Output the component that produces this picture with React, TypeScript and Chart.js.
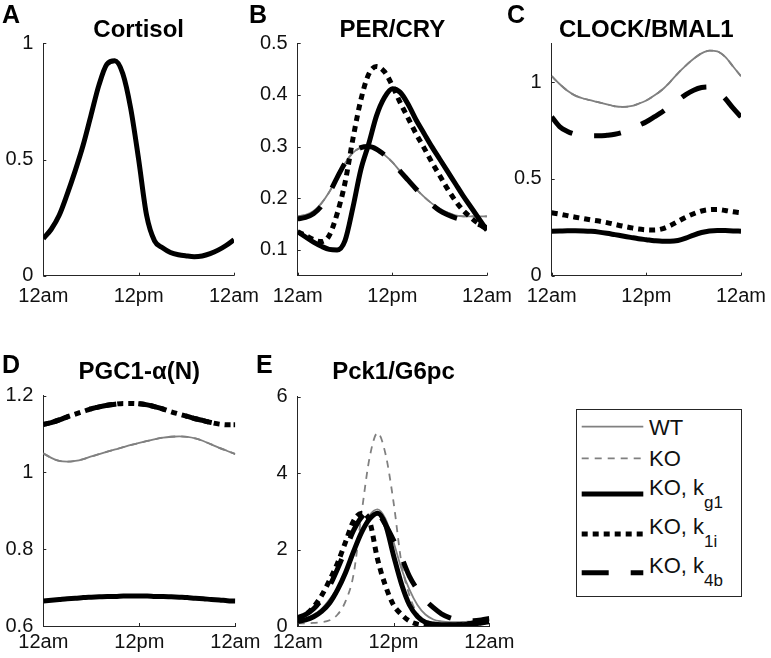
import React, { useEffect, useRef } from 'react';
import { Chart, registerables } from 'chart.js';

Chart.register(...registerables);

// ---------------- data ----------------
const hours = [0, 1, 2, 3, 4, 5, 6, 7, 8, 9, 10, 11, 12, 13, 14, 15, 16, 17, 18, 19, 20, 21, 22, 23, 24];
const xTickValues = [0, 12, 24];
const xTickLabels = ['12am', '12pm', '12am'];

// A: Cortisol
const cortisol = [0.16, 0.20, 0.26, 0.35, 0.45, 0.56, 0.69, 0.82, 0.91, 0.925, 0.87, 0.72, 0.50, 0.26, 0.15, 0.12, 0.10, 0.09, 0.085, 0.082, 0.085, 0.095, 0.11, 0.13, 0.155];
const yTicksA = [0, 0.5, 1];

// B: PER/CRY
const perCryWT = [0.165, 0.168, 0.175, 0.190, 0.212, 0.240, 0.268, 0.288, 0.298, 0.300, 0.295, 0.284, 0.270, 0.252, 0.235, 0.218, 0.203, 0.190, 0.180, 0.172, 0.167, 0.165, 0.165, 0.165, 0.165];
const perCryKO = [0.165, 0.168, 0.175, 0.190, 0.212, 0.240, 0.268, 0.288, 0.298, 0.300, 0.295, 0.284, 0.270, 0.252, 0.235, 0.218, 0.203, 0.190, 0.180, 0.172, 0.167, 0.165, 0.165, 0.165, 0.165];
const perCryKg1 = [0.135, 0.125, 0.115, 0.107, 0.101, 0.100, 0.118, 0.182, 0.255, 0.305, 0.360, 0.395, 0.412, 0.405, 0.382, 0.352, 0.326, 0.300, 0.276, 0.252, 0.228, 0.204, 0.182, 0.160, 0.138];
const perCryK1i = [0.135, 0.128, 0.120, 0.116, 0.128, 0.170, 0.230, 0.315, 0.390, 0.440, 0.455, 0.445, 0.418, 0.385, 0.355, 0.325, 0.298, 0.270, 0.244, 0.218, 0.195, 0.176, 0.162, 0.150, 0.140];
const perCryK4b = [0.160, 0.163, 0.170, 0.185, 0.210, 0.240, 0.268, 0.288, 0.298, 0.300, 0.295, 0.284, 0.270, 0.252, 0.235, 0.218, 0.202, 0.188, 0.176, 0.168, 0.162, 0.158, 0.154, 0.149, 0.143];
const yTicksB = [0.1, 0.2, 0.3, 0.4, 0.5];

// C: CLOCK/BMAL1
const clockWT = [1.03, 0.99, 0.955, 0.93, 0.915, 0.905, 0.895, 0.885, 0.875, 0.872, 0.875, 0.888, 0.905, 0.93, 0.96, 1.00, 1.045, 1.085, 1.12, 1.148, 1.162, 1.158, 1.13, 1.08, 1.03];
const clockKO = [1.03, 0.99, 0.955, 0.93, 0.915, 0.905, 0.895, 0.885, 0.875, 0.872, 0.875, 0.888, 0.905, 0.93, 0.96, 1.00, 1.045, 1.085, 1.12, 1.148, 1.162, 1.158, 1.13, 1.08, 1.03];
const clockKg1 = [0.23, 0.231, 0.232, 0.232, 0.231, 0.229, 0.225, 0.219, 0.212, 0.205, 0.198, 0.191, 0.186, 0.181, 0.178, 0.178, 0.182, 0.194, 0.21, 0.223, 0.231, 0.234, 0.233, 0.231, 0.23];
const clockK1i = [0.325, 0.318, 0.31, 0.302, 0.295, 0.288, 0.282, 0.274, 0.265, 0.256, 0.248, 0.241, 0.237, 0.236, 0.242, 0.258, 0.28, 0.302, 0.32, 0.334, 0.341, 0.342, 0.337, 0.33, 0.325];
const clockK4b = [0.82, 0.77, 0.745, 0.73, 0.725, 0.722, 0.722, 0.725, 0.73, 0.74, 0.755, 0.775, 0.795, 0.82, 0.845, 0.875, 0.905, 0.935, 0.958, 0.972, 0.975, 0.955, 0.915, 0.865, 0.82];
const yTicksC = [0, 0.5, 1];

// D: PGC1-alpha(N)
const pgcWT = [1.050, 1.038, 1.030, 1.028, 1.030, 1.035, 1.042, 1.048, 1.054, 1.060, 1.066, 1.072, 1.077, 1.082, 1.087, 1.091, 1.093, 1.094, 1.093, 1.089, 1.082, 1.073, 1.064, 1.056, 1.048];
const pgcKO = [1.050, 1.038, 1.030, 1.028, 1.030, 1.035, 1.042, 1.048, 1.054, 1.060, 1.066, 1.072, 1.077, 1.082, 1.087, 1.091, 1.093, 1.094, 1.093, 1.089, 1.082, 1.073, 1.064, 1.056, 1.048];
const pgcKg1 = [0.665, 0.667, 0.669, 0.671, 0.672, 0.674, 0.675, 0.676, 0.677, 0.677, 0.678, 0.678, 0.678, 0.678, 0.677, 0.677, 0.676, 0.675, 0.674, 0.672, 0.671, 0.669, 0.668, 0.666, 0.665];
const pgcK1i = [1.125, 1.130, 1.137, 1.145, 1.152, 1.159, 1.166, 1.171, 1.175, 1.178, 1.180, 1.180, 1.179, 1.176, 1.171, 1.165, 1.158, 1.152, 1.146, 1.140, 1.135, 1.130, 1.126, 1.124, 1.124];
const pgcK4b = [1.125, 1.130, 1.137, 1.145, 1.152, 1.159, 1.166, 1.171, 1.175, 1.178, 1.180, 1.180, 1.179, 1.176, 1.171, 1.165, 1.158, 1.152, 1.146, 1.140, 1.135, 1.130, 1.126, 1.124, 1.124];
const yTicksD = [0.6, 0.8, 1, 1.2];

// E: Pck1/G6pc
const pckWT = [0.15, 0.2, 0.3, 0.45, 0.7, 1.0, 1.45, 2.0, 2.5, 2.9, 3.05, 2.8, 2.2, 1.5, 0.95, 0.55, 0.3, 0.17, 0.12, 0.1, 0.1, 0.11, 0.12, 0.14, 0.15];
const pckKO = [0.07, 0.07, 0.08, 0.1, 0.15, 0.3, 0.65, 1.35, 2.95, 4.4, 5.05, 4.5, 3.25, 1.65, 0.8, 0.32, 0.15, 0.08, 0.06, 0.05, 0.05, 0.05, 0.05, 0.06, 0.07];
const pckKg1 = [0.12, 0.16, 0.24, 0.38, 0.6, 0.95, 1.4, 1.95, 2.45, 2.8, 2.95, 2.65, 1.85, 1.1, 0.55, 0.25, 0.1, 0.05, 0.03, 0.03, 0.03, 0.04, 0.05, 0.08, 0.11];
const pckK1i = [0.2, 0.3, 0.5, 0.8, 1.2, 1.65, 2.2, 2.75, 2.95, 2.75, 1.75, 1.05, 0.55, 0.3, 0.13, 0.05, 0.02, 0.01, 0.01, 0.02, 0.03, 0.05, 0.08, 0.12, 0.18];
const pckK4b = [0.22, 0.3, 0.45, 0.7, 1.05, 1.5, 2.0, 2.5, 2.85, 3.0, 2.95, 2.65, 2.25, 1.8, 1.3, 0.95, 0.68, 0.48, 0.32, 0.22, 0.16, 0.14, 0.14, 0.16, 0.2];
const yTicksE = [0, 2, 4, 6];

// legend
const legendLabels = ['WT', 'KO', 'KO, k', 'KO, k', 'KO, k'];
const legendSubs = ['', '', 'g1', '1i', '4b'];
const legendKeys = ['WT', 'KO', 'kg1', 'k1i', 'k4b'];

// ---------------- styles / layout ----------------
const FONT = '"Liberation Sans", Arial, Helvetica, sans-serif';
const AXIS_COLOR = '#262626';

const STYLES: Record<string, any> = {
  WT: { color: '#808080', width: 1.8, dash: [], order: 5 },
  KO: { color: '#808080', width: 1.8, dash: [7, 6], order: 4 },
  kg1: { color: '#000000', width: 5, dash: [], order: 3 },
  k1i: { color: '#000000', width: 5, dash: [6, 5], order: 2 },
  k4b: { color: '#000000', width: 5, dash: [27, 22], order: 1 },
};

type Series = { key: string; data: number[] };
type PanelSpec = {
  title: string; L: number; T: number; R: number; B: number; titleMid: number; tickPad: number;
  yMin: number; yMax: number; yTicks: number[]; series: Series[];
};

const panels: PanelSpec[] = [
  { title: 'Cortisol', L: 43.3, T: 43.3, R: 236, B: 275.7, titleMid: 30.5, tickPad: 9, yMin: 0, yMax: 1, yTicks: yTicksA,
    series: [{ key: 'kg1', data: cortisol }] },
  { title: 'PER/CRY', L: 297.7, T: 43.3, R: 489, B: 275.7, titleMid: 30.5, tickPad: 9, yMin: 0.05, yMax: 0.5, yTicks: yTicksB,
    series: [{ key: 'WT', data: perCryWT }, { key: 'KO', data: perCryKO }, { key: 'kg1', data: perCryKg1 }, { key: 'k1i', data: perCryK1i }, { key: 'k4b', data: perCryK4b }] },
  { title: 'CLOCK/BMAL1', L: 551.7, T: 43.3, R: 742.7, B: 275.7, titleMid: 30.5, tickPad: 9, yMin: 0, yMax: 1.2, yTicks: yTicksC,
    series: [{ key: 'WT', data: clockWT }, { key: 'KO', data: clockKO }, { key: 'kg1', data: clockKg1 }, { key: 'k1i', data: clockK1i }, { key: 'k4b', data: clockK4b }] },
  { title: 'PGC1-\u03b1(N)', L: 43.3, T: 395.7, R: 235.3, B: 626, titleMid: 372, tickPad: 4, yMin: 0.6, yMax: 1.2, yTicks: yTicksD,
    series: [{ key: 'WT', data: pgcWT }, { key: 'KO', data: pgcKO }, { key: 'kg1', data: pgcKg1 }, { key: 'k1i', data: pgcK1i }, { key: 'k4b', data: pgcK4b }] },
  { title: 'Pck1/G6pc', L: 297.7, T: 396.7, R: 489.3, B: 626, titleMid: 372, tickPad: 4, yMin: 0, yMax: 6, yTicks: yTicksE,
    series: [{ key: 'WT', data: pckWT }, { key: 'KO', data: pckKO }, { key: 'kg1', data: pckKg1 }, { key: 'k1i', data: pckK1i }, { key: 'k4b', data: pckK4b }] },
];

const panelLetters = [
  { text: 'A', left: 2, top: 2 },
  { text: 'B', left: 249, top: 2 },
  { text: 'C', left: 507, top: 2 },
  { text: 'D', left: 2, top: 352 },
  { text: 'E', left: 256, top: 352 },
];

const TITLE_SIZE = 24;

function geometry(p: PanelSpec) {
  const cx = Math.floor(p.L - 40);
  const cy = Math.floor(p.titleMid - TITLE_SIZE / 2 - 8);
  const w = Math.ceil(p.R - cx + 32);
  const h = Math.ceil(p.B - cy + 42);
  return {
    cx, cy, w, h,
    yAxisW: p.L - cx,
    xAxisH: h - (p.B - cy),
    padRight: w - (p.R - cx),
    titleTop: p.titleMid - TITLE_SIZE / 2 - cy,
    titleBottom: p.T - p.titleMid - TITLE_SIZE / 2,
  };
}

const inwardTicks = {
  id: 'inwardTicks',
  afterDraw(chart: any) {
    const { ctx, chartArea, scales } = chart;
    const x = scales.x, y = scales.y;
    ctx.save();
    ctx.strokeStyle = AXIS_COLOR;
    ctx.lineWidth = 1;
    ctx.beginPath();
    x.ticks.forEach((t: any) => {
      const px = Math.round(x.getPixelForValue(t.value)) + 0.5;
      ctx.moveTo(px, chartArea.bottom);
      ctx.lineTo(px, chartArea.bottom - 3);
    });
    y.ticks.forEach((t: any) => {
      const py = Math.round(y.getPixelForValue(t.value)) + 0.5;
      ctx.moveTo(chartArea.left, py);
      ctx.lineTo(chartArea.left + 3, py);
    });
    ctx.stroke();
    ctx.restore();
  },
};

function Panel({ spec }: { spec: PanelSpec }) {
  const ref = useRef<HTMLCanvasElement>(null);
  const g = geometry(spec);
  useEffect(() => {
    if (!ref.current) return;
    const datasets = spec.series.map((s) => {
      const st = STYLES[s.key];
      return {
        label: s.key,
        data: hours.map((hr, i) => ({ x: hr, y: s.data[i] })),
        borderColor: st.color,
        borderWidth: st.width,
        borderDash: st.dash,
        borderCapStyle: 'butt',
        borderJoinStyle: 'round',
        pointRadius: 0,
        fill: false,
        cubicInterpolationMode: 'monotone',
        order: st.order,
      };
    });
    const chart = new Chart(ref.current, {
      type: 'line',
      data: { datasets } as any,
      plugins: [inwardTicks],
      options: {
        animation: false,
        responsive: false,
        maintainAspectRatio: false,
        devicePixelRatio: 1,
        events: [],
        layout: { padding: { left: 0, top: 0, bottom: 0, right: g.padRight } },
        plugins: {
          legend: { display: false },
          tooltip: { enabled: false },
          title: {
            display: true,
            text: spec.title,
            fullSize: false,
            color: '#000',
            font: { family: FONT, size: TITLE_SIZE, weight: 'bold', lineHeight: 1 },
            padding: { top: g.titleTop, bottom: g.titleBottom },
          },
        },
        scales: {
          x: {
            type: 'linear',
            min: 0,
            max: 24,
            afterBuildTicks: (s: any) => { s.ticks = xTickValues.map((value) => ({ value })); },
            afterFit: (s: any) => { s.height = g.xAxisH; },
            ticks: {
              callback: (_v: any, i: number) => xTickLabels[i],
              font: { family: FONT, size: 20 },
              color: '#111',
              padding: spec.tickPad,
              maxRotation: 0,
              autoSkip: false,
            },
            grid: { display: false, drawTicks: false },
            border: { display: true, color: AXIS_COLOR, width: 1 },
          },
          y: {
            type: 'linear',
            min: spec.yMin,
            max: spec.yMax,
            afterBuildTicks: (s: any) => { s.ticks = spec.yTicks.map((value) => ({ value })); },
            afterFit: (s: any) => { s.width = g.yAxisW; },
            ticks: {
              callback: (v: any) => String(v),
              font: { family: FONT, size: 20 },
              color: '#111',
              padding: 10,
              autoSkip: false,
            },
            grid: { display: false, drawTicks: false },
            border: { display: true, color: AXIS_COLOR, width: 1 },
          },
        },
      } as any,
    });
    return () => chart.destroy();
  }, []);
  return (
    <canvas
      ref={ref}
      width={g.w}
      height={g.h}
      style={{ position: 'absolute', left: g.cx, top: g.cy, width: g.w, height: g.h }}
    />
  );
}

const legendLineY = [16.7, 48.3, 84, 124, 162.7];
const legendBaseY = [25, 56, 85, 124, 163.3];

function Legend() {
  return (
    <div
      style={{
        position: 'absolute', left: 576, top: 409, width: 166, height: 188,
        border: `1px solid ${AXIS_COLOR}`, boxSizing: 'border-box', background: '#fff',
      }}
    >
      <svg width={164} height={186} style={{ display: 'block' }}>
        {legendKeys.map((k, i) => {
          const st = STYLES[k];
          return (
            <g key={k}>
              <line
                x1={4.7} x2={66.3} y1={legendLineY[i]} y2={legendLineY[i]}
                stroke={st.color} strokeWidth={st.width}
                strokeDasharray={st.dash.length ? st.dash.join(',') : undefined}
              />
              <text x={72} y={legendBaseY[i]} fontFamily={FONT} fontSize={22} fill="#111">
                {legendLabels[i]}
                {legendSubs[i] ? <tspan fontSize={17} dy={13}>{legendSubs[i]}</tspan> : null}
              </text>
            </g>
          );
        })}
      </svg>
    </div>
  );
}

export default function App() {
  return (
    <div
      style={{
        position: 'absolute', left: 0, top: 0, width: 771, height: 658,
        overflow: 'hidden', background: '#fff', fontFamily: FONT,
      }}
    >
      {panels.map((p) => <Panel key={p.title} spec={p} />)}
      {panelLetters.map((l) => (
        <div
          key={l.text}
          style={{
            position: 'absolute', left: l.left, top: l.top, fontSize: 25, lineHeight: '25px',
            fontWeight: 'bold', fontFamily: FONT, color: '#000',
          }}
        >
          {l.text}
        </div>
      ))}
      <Legend />
    </div>
  );
}
